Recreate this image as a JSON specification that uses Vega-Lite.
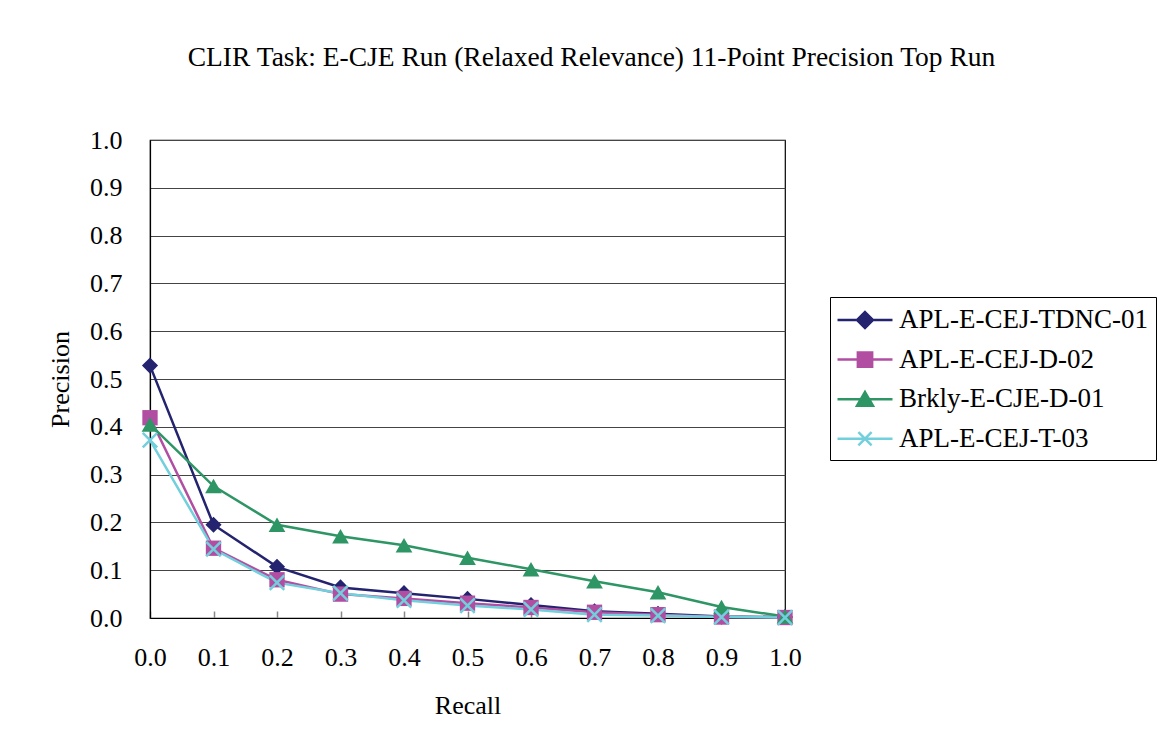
{
  "$schema": "https://vega.github.io/schema/vega-lite/v6.json",
  "autosize": {"type": "none"},
  "width": 635,
  "height": 478,
  "padding": {"left": 150, "top": 140, "right": 383, "bottom": 136},
  "background": "white",
  "title": {
    "text": "CLIR Task: E-CJE Run (Relaxed Relevance) 11-Point Precision Top Run",
    "anchor": "middle",
    "dx": 124,
    "offset": 56,
    "font": "Liberation Serif",
    "fontSize": 27.5,
    "fontWeight": "normal",
    "color": "black"
  },
  "config": {
    "font": "Liberation Serif",
    "view": {"stroke": "black", "strokeWidth": 1.2},
    "axis": {
      "labelFont": "Liberation Serif",
      "labelFontSize": 26,
      "labelColor": "black",
      "titleFont": "Liberation Serif",
      "titleFontSize": 26,
      "titleFontWeight": "normal",
      "titleColor": "black",
      "domainColor": "black",
      "domainWidth": 1.2
    }
  },
  "data": {
    "values": [
      {"run": "APL-E-CEJ-TDNC-01", "recall": 0.0, "precision": 0.528},
      {"run": "APL-E-CEJ-TDNC-01", "recall": 0.1, "precision": 0.195},
      {"run": "APL-E-CEJ-TDNC-01", "recall": 0.2, "precision": 0.107},
      {"run": "APL-E-CEJ-TDNC-01", "recall": 0.3, "precision": 0.064},
      {"run": "APL-E-CEJ-TDNC-01", "recall": 0.4, "precision": 0.052},
      {"run": "APL-E-CEJ-TDNC-01", "recall": 0.5, "precision": 0.040},
      {"run": "APL-E-CEJ-TDNC-01", "recall": 0.6, "precision": 0.027},
      {"run": "APL-E-CEJ-TDNC-01", "recall": 0.7, "precision": 0.014},
      {"run": "APL-E-CEJ-TDNC-01", "recall": 0.8, "precision": 0.009},
      {"run": "APL-E-CEJ-TDNC-01", "recall": 0.9, "precision": 0.003},
      {"run": "APL-E-CEJ-TDNC-01", "recall": 1.0, "precision": 0.002},
      {"run": "APL-E-CEJ-D-02", "recall": 0.0, "precision": 0.419},
      {"run": "APL-E-CEJ-D-02", "recall": 0.1, "precision": 0.146},
      {"run": "APL-E-CEJ-D-02", "recall": 0.2, "precision": 0.080},
      {"run": "APL-E-CEJ-D-02", "recall": 0.3, "precision": 0.050},
      {"run": "APL-E-CEJ-D-02", "recall": 0.4, "precision": 0.041},
      {"run": "APL-E-CEJ-D-02", "recall": 0.5, "precision": 0.031},
      {"run": "APL-E-CEJ-D-02", "recall": 0.6, "precision": 0.022},
      {"run": "APL-E-CEJ-D-02", "recall": 0.7, "precision": 0.012},
      {"run": "APL-E-CEJ-D-02", "recall": 0.8, "precision": 0.007},
      {"run": "APL-E-CEJ-D-02", "recall": 0.9, "precision": 0.002},
      {"run": "APL-E-CEJ-D-02", "recall": 1.0, "precision": 0.001},
      {"run": "Brkly-E-CJE-D-01", "recall": 0.0, "precision": 0.405},
      {"run": "Brkly-E-CJE-D-01", "recall": 0.1, "precision": 0.276},
      {"run": "Brkly-E-CJE-D-01", "recall": 0.2, "precision": 0.195},
      {"run": "Brkly-E-CJE-D-01", "recall": 0.3, "precision": 0.171},
      {"run": "Brkly-E-CJE-D-01", "recall": 0.4, "precision": 0.152},
      {"run": "Brkly-E-CJE-D-01", "recall": 0.5, "precision": 0.126},
      {"run": "Brkly-E-CJE-D-01", "recall": 0.6, "precision": 0.102},
      {"run": "Brkly-E-CJE-D-01", "recall": 0.7, "precision": 0.077},
      {"run": "Brkly-E-CJE-D-01", "recall": 0.8, "precision": 0.054},
      {"run": "Brkly-E-CJE-D-01", "recall": 0.9, "precision": 0.023},
      {"run": "Brkly-E-CJE-D-01", "recall": 1.0, "precision": 0.003},
      {"run": "APL-E-CEJ-T-03", "recall": 0.0, "precision": 0.372},
      {"run": "APL-E-CEJ-T-03", "recall": 0.1, "precision": 0.144},
      {"run": "APL-E-CEJ-T-03", "recall": 0.2, "precision": 0.074},
      {"run": "APL-E-CEJ-T-03", "recall": 0.3, "precision": 0.052},
      {"run": "APL-E-CEJ-T-03", "recall": 0.4, "precision": 0.037},
      {"run": "APL-E-CEJ-T-03", "recall": 0.5, "precision": 0.026},
      {"run": "APL-E-CEJ-T-03", "recall": 0.6, "precision": 0.018},
      {"run": "APL-E-CEJ-T-03", "recall": 0.7, "precision": 0.007},
      {"run": "APL-E-CEJ-T-03", "recall": 0.8, "precision": 0.005},
      {"run": "APL-E-CEJ-T-03", "recall": 0.9, "precision": 0.002},
      {"run": "APL-E-CEJ-T-03", "recall": 1.0, "precision": 0.001}
    ]
  },
  "encoding": {
    "x": {
      "field": "recall",
      "type": "quantitative",
      "title": "Recall",
      "scale": {"domain": [0, 1], "nice": false, "zero": false},
      "axis": {
        "values": [0, 0.1, 0.2, 0.3, 0.4, 0.5, 0.6, 0.7, 0.8, 0.9, 1.0],
        "format": ".1f",
        "grid": false,
        "tickSize": -7,
        "tickColor": "#888888",
        "tickWidth": 1.5,
        "labelPadding": 33,
        "titlePadding": 22,
        "labelFlush": false
      }
    },
    "y": {
      "field": "precision",
      "type": "quantitative",
      "title": "Precision",
      "scale": {"domain": [0, 1], "nice": false, "zero": true},
      "axis": {
        "values": [0, 0.1, 0.2, 0.3, 0.4, 0.5, 0.6, 0.7, 0.8, 0.9, 1.0],
        "format": ".1f",
        "grid": true,
        "gridColor": "#444444",
        "gridWidth": 1,
        "gridOpacity": 1,
        "tickSize": 0,
        "labelPadding": 28,
        "titlePadding": 16,
        "labelFlush": false
      }
    }
  },
  "layer": [
    {
      "mark": {"type": "line", "strokeWidth": 2.5},
      "encoding": {
        "order": {"field": "recall", "type": "quantitative"},
        "color": {
          "field": "run",
          "type": "nominal",
          "sort": ["APL-E-CEJ-TDNC-01", "APL-E-CEJ-D-02", "Brkly-E-CJE-D-01", "APL-E-CEJ-T-03"],
          "scale": {
            "domain": ["APL-E-CEJ-TDNC-01", "APL-E-CEJ-D-02", "Brkly-E-CJE-D-01", "APL-E-CEJ-T-03"],
            "range": ["#23236F", "#B24EA2", "#2E9565", "#72CFDC"]
          },
          "legend": {
            "title": null,
            "orient": "none",
            "legendX": 680,
            "legendY": 157,
            "strokeColor": "black",
            "fillColor": "white",
            "padding": 8,
            "labelFont": "Liberation Serif",
            "labelFontSize": 27,
            "labelColor": "black",
            "labelLimit": 400,
            "symbolSize": 756,
            "symbolStrokeWidth": 2.5,
            "symbolOffset": 12,
            "labelOffset": 19,
            "rowPadding": 11.6,
            "encode": {
              "symbols": {
                "update": {
                  "shape": {"signal": "datum.value === 'APL-E-CEJ-TDNC-01' ? 'M-2,0L2,0M0,-0.58L0.58,0L0,0.58L-0.58,0Z' : datum.value === 'APL-E-CEJ-D-02' ? 'M-2,0L2,0M-0.52,-0.52L0.52,-0.52L0.52,0.52L-0.52,0.52Z' : datum.value === 'Brkly-E-CJE-D-01' ? 'M-2,0L2,0M0,-0.52L0.58,0.47L-0.58,0.47Z' : 'M-2,0L2,0M-0.48,-0.48L0.48,0.48M-0.48,0.48L0.48,-0.48'"},
                  "fill": {"signal": "scale('color', datum.value)"},
                  "stroke": {"signal": "scale('color', datum.value)"},
                  "strokeWidth": {"value": 2.5},
                  "opacity": {"value": 1},
                  "fillOpacity": {"value": 1},
                  "strokeOpacity": {"value": 1}
                }
              }
            }
          }
        }
      }
    },
    {
      "transform": [{"filter": "datum.run === 'APL-E-CEJ-TDNC-01'"}],
      "mark": {"type": "point", "shape": "diamond", "filled": true, "size": 260, "opacity": 1, "color": "#23236F"}
    },
    {
      "transform": [{"filter": "datum.run === 'APL-E-CEJ-D-02'"}],
      "mark": {"type": "point", "shape": "square", "filled": true, "size": 235, "opacity": 1, "color": "#B24EA2"}
    },
    {
      "transform": [{"filter": "datum.run === 'Brkly-E-CJE-D-01'"}],
      "mark": {"type": "point", "shape": "triangle-up", "filled": true, "size": 280, "opacity": 1, "color": "#2E9565"}
    },
    {
      "transform": [{"filter": "datum.run === 'APL-E-CEJ-T-03'"}],
      "mark": {"type": "point", "shape": "M-1,-1L1,1M-1,1L1,-1", "filled": false, "size": 210, "strokeWidth": 2.5, "opacity": 1, "color": "#72CFDC"}
    }
  ]
}
